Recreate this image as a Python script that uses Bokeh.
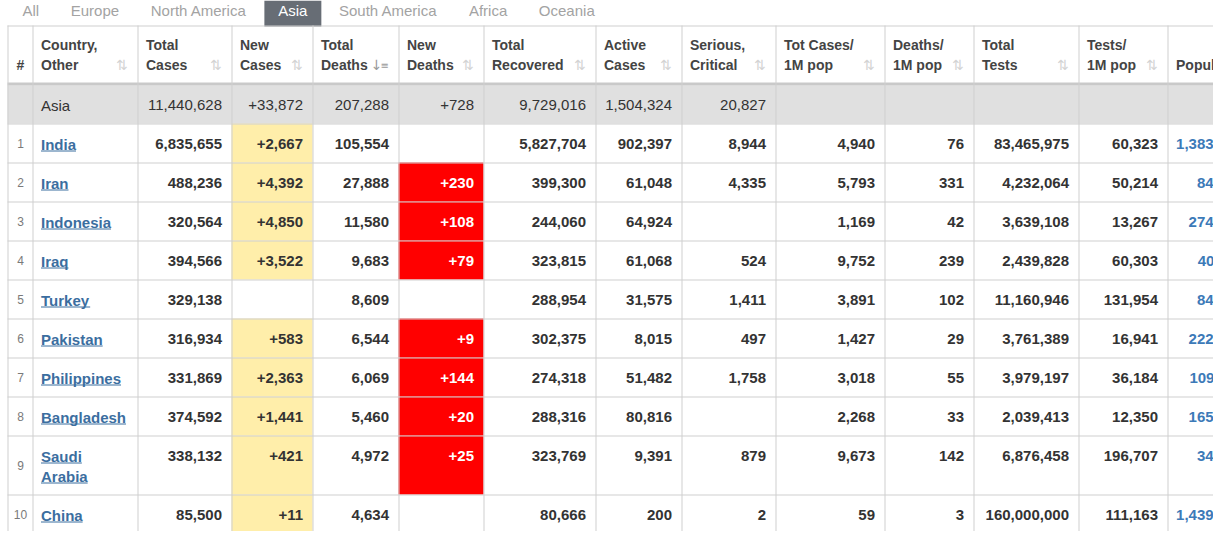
from bokeh.plotting import figure
from bokeh.models import Range1d, ColumnDataSource
from bokeh.core.properties import value
from bokeh.embed import file_html
from bokeh.resources import INLINE

# ---------------- DATA ----------------
tabs = ["All", "Europe", "North America", "Asia", "South America", "Africa", "Oceania"]
active_tab = "Asia"

headers = ["#", "Country,\nOther", "Total\nCases", "New\nCases", "Total\nDeaths", "New\nDeaths",
           "Total\nRecovered", "Active\nCases", "Serious,\nCritical", "Tot Cases/\n1M pop",
           "Deaths/\n1M pop", "Total\nTests", "Tests/\n1M pop", "Population"]
sorted_header = "Total\nDeaths"

region_name = "Asia"
region_values = ["11,440,628", "+33,872", "207,288", "+728", "9,729,016", "1,504,324", "20,827",
                 "", "", "", "", ""]

ranks = ["1", "2", "3", "4", "5", "6", "7", "8", "9", "10", "11"]
countries = ["India", "Iran", "Indonesia", "Iraq", "Turkey", "Pakistan", "Philippines",
             "Bangladesh", "Saudi Arabia", "China", "Israel"]
total_cases = ["6,835,655", "488,236", "320,564", "394,566", "329,138", "316,934", "331,869",
               "374,592", "338,132", "85,500", "289,037"]
new_cases = ["+2,667", "+4,392", "+4,850", "+3,522", "", "+583", "+2,363", "+1,441", "+421",
             "+11", "+1,870"]
total_deaths = ["105,554", "27,888", "11,580", "9,683", "8,609", "6,544", "6,069", "5,460",
                "4,972", "4,634", "1,924"]
new_deaths = ["", "+230", "+108", "+79", "", "+9", "+144", "+20", "+25", "", "+17"]
total_recovered = ["5,827,704", "399,300", "244,060", "323,815", "288,954", "302,375", "274,318",
                   "288,316", "323,769", "80,666", "225,812"]
active_cases = ["902,397", "61,048", "64,924", "61,068", "31,575", "8,015", "51,482", "80,816",
                "9,391", "200", "61,301"]
serious_critical = ["8,944", "4,335", "", "524", "1,411", "497", "1,758", "", "879", "2", "848"]
cases_per_1m = ["4,940", "5,793", "1,169", "9,752", "3,891", "1,427", "3,018", "2,268", "9,673",
                "59", "33,316"]
deaths_per_1m = ["76", "331", "42", "239", "102", "29", "55", "33", "142", "3", "222"]
total_tests = ["83,465,975", "4,232,064", "3,639,108", "2,439,828", "11,160,946", "3,761,389",
               "3,979,197", "2,039,413", "6,876,458", "160,000,000", "4,195,620"]
tests_per_1m = ["60,323", "50,214", "13,267", "60,303", "131,954", "16,941", "36,184", "12,350",
                "196,707", "111,163", "483,045"]
population = ["1,383,623,421", "84,326,512", "274,281,341", "40,442,113", "84,632,016",
              "222,003,540", "109,980,117", "165,125,890", "34,908,721", "1,439,323,776",
              "8,685,712"]

value_columns = [total_cases, new_cases, total_deaths, new_deaths, total_recovered, active_cases,
                 serious_critical, cases_per_1m, deaths_per_1m, total_tests, tests_per_1m, population]

# ---------------- STYLE / LAYOUT ----------------
FONT = value("Liberation Sans")
W_FIG, H_FIG = 1213, 531
col_edges = [7, 32, 137, 231, 312, 398, 483, 595, 681, 775, 884, 973, 1078, 1167, 1281]
header_top = 25
header_bottom = 82      # thick rule 82..85
region_top = 85
first_row_line = 123
base_row_h = 39
line_h = 20
BL = -4.5               # baseline correction for rendered text
grid_color = "#cfcfcf"
text_color = "#333333"
hdr_color = "#444444"
link_color = "#3b6e9f"
pop_color = "#3c7ab8"
yellow = "#ffeeaa"
red = "#ff0000"

# Arial / Liberation Sans advance widths (per 1000 em)
W_BOLD = {'A': 722, 'B': 722, 'C': 722, 'I': 278, 'P': 667, 'S': 667, 'T': 611, 'a': 556,
          'b': 611, 'c': 556, 'd': 611, 'e': 556, 'g': 611, 'h': 611, 'i': 278, 'k': 556,
          'l': 278, 'n': 611, 'o': 611, 'p': 611, 'q': 611, 'r': 389, 's': 556, 't': 333,
          'u': 611, 'y': 556, ' ': 278}
W_REG = {'A': 667, 'l': 222, 'E': 667, 'u': 556, 'r': 333, 'o': 556, 'p': 556, 'e': 556,
         'N': 722, 't': 278, 'h': 556, ' ': 278, 'm': 833, 'i': 222, 'c': 500, 'a': 556,
         's': 500, 'S': 667, 'f': 278, 'O': 778, 'n': 556}


def text_w(s, size, table):
    return sum(table.get(ch, 556) for ch in s) * size / 1000.0


p = figure(width=W_FIG, height=H_FIG, x_range=Range1d(0, W_FIG), y_range=Range1d(H_FIG, 0),
           output_backend="svg", toolbar_location=None, min_border=0,
           x_axis_location=None, y_axis_location=None)
p.grid.visible = False
p.outline_line_color = None
p.background_fill_color = "white"
p.border_fill_color = "white"

# ---------------- TABS ----------------
tab_x, tab_txt, tab_col = [], [], []
left = 6.2
pad = 15.8
for t in tabs:
    w = text_w(t, 15, W_REG)
    tx = left + pad
    if t == active_tab:
        p.quad(left=[left + 2], right=[tx + w + pad - 1.8], top=[0], bottom=[26],
               fill_color="#676d75", line_color=None)
    tab_x.append(tx)
    tab_txt.append(t)
    tab_col.append("white" if t == active_tab else "#a3a3a3")
    left = tx + w + pad
p.text(x="x", y="y", text="t", text_color="c",
       source=ColumnDataSource(dict(x=tab_x, y=[14 + BL] * len(tab_x), t=tab_txt, c=tab_col)),
       text_font=FONT, text_font_size="15px", text_baseline="alphabetic", text_align="left")

# ---------------- ROW GEOMETRY ----------------
name_lines = []
for c in countries:
    avail = (col_edges[2] - col_edges[1]) - 17
    if text_w(c, 15, W_BOLD) > avail and " " in c:
        name_lines.append(c.split(" "))
    else:
        name_lines.append([c])
row_tops, row_bots = [], []
y = first_row_line
for nl in name_lines:
    row_tops.append(y)
    y = y + base_row_h + line_h * (len(nl) - 1)
    row_bots.append(y)

# ---------------- BACKGROUNDS ----------------
p.quad(left=[col_edges[0]], right=[1221], top=[region_top], bottom=[first_row_line],
       fill_color="#e0e0e0", line_color=None)
p.quad(left=[col_edges[0]], right=[1221], top=[header_bottom], bottom=[header_bottom + 3],
       fill_color="#c9c9c9", line_color=None)

hl_l, hl_r, hl_t, hl_b, hl_c = [], [], [], [], []
for i in range(len(countries)):
    if new_cases[i]:
        hl_l.append(col_edges[3]); hl_r.append(col_edges[4])
        hl_t.append(row_tops[i]); hl_b.append(row_bots[i]); hl_c.append(yellow)
    if new_deaths[i]:
        hl_l.append(col_edges[5]); hl_r.append(col_edges[6])
        hl_t.append(row_tops[i]); hl_b.append(row_bots[i]); hl_c.append(red)
p.quad(left="l", right="r", top="t", bottom="b", fill_color="c", line_color=None,
       source=ColumnDataSource(dict(l=hl_l, r=hl_r, t=hl_t, b=hl_b, c=hl_c)))

# ---------------- GRID LINES ----------------
hx0, hx1, hy = [], [], []
for yy in [header_top] + [first_row_line] + row_bots:
    hx0.append(col_edges[0]); hx1.append(1221); hy.append(yy + 0.5)
p.segment(x0=hx0, x1=hx1, y0=hy, y1=hy, line_color=grid_color, line_width=1)
vx = [e + 0.5 for e in col_edges]
p.segment(x0=vx, x1=vx, y0=[header_top] * len(vx), y1=[560] * len(vx),
          line_color=grid_color, line_width=1)

# ---------------- HEADER TEXT ----------------
hdr_x, hdr_y, hdr_t = [], [], []
ico_x, ico_t, ico_c, ico_s = [], [], [], []
for j, h in enumerate(headers):
    parts = h.split("\n")
    if j == 0:
        p.text(x=[(col_edges[0] + col_edges[1]) / 2 + 0.5], y=[69 + BL], text=[h], text_font=FONT,
               text_font_size="14px", text_font_style="bold", text_color=hdr_color,
               text_align="center", text_baseline="alphabetic")
        continue
    base = 69 - line_h * (len(parts) - 1)
    for k, part in enumerate(parts):
        hdr_x.append(col_edges[j] + 8.5)
        hdr_y.append(base + k * line_h + BL)
        hdr_t.append(part)
    if j < len(headers) - 1:
        if h == sorted_header:
            ico_x += [col_edges[j + 1] - 16, col_edges[j + 1] - 9.5]
            ico_t += ["↓", "≡"]
            ico_c += ["#9a9a9a", "#9a9a9a"]
            ico_s += ["14px", "10px"]
        else:
            ico_x.append(col_edges[j + 1] - 9.5)
            ico_t.append("⇅"); ico_c.append("#d3d3d3"); ico_s.append("14px")
p.text(x="x", y="y", text="t", source=ColumnDataSource(dict(x=hdr_x, y=hdr_y, t=hdr_t)),
       text_font=FONT, text_font_size="14px", text_font_style="bold", text_color=hdr_color,
       text_align="left", text_baseline="alphabetic")
p.text(x="x", y="y", text="t", text_color="c", text_font_size="s",
       source=ColumnDataSource(dict(x=ico_x, y=[69 + BL] * len(ico_x), t=ico_t, c=ico_c,
                                    s=ico_s)),
       text_font=value("DejaVu Sans"), text_align="right", text_baseline="alphabetic")

# ---------------- REGION ROW ----------------
rx, rt = [], []
for j, v in enumerate(region_values):
    if v:
        rx.append(col_edges[j + 3] - 9.5)
        rt.append(v)
p.text(x="x", y="y", text="t",
       source=ColumnDataSource(dict(x=rx, y=[region_top + 24 + BL] * len(rx), t=rt)),
       text_font=FONT, text_font_size="15px", text_color=text_color, text_align="right",
       text_baseline="alphabetic")
p.text(x=[col_edges[1] + 8.5], y=[region_top + 24 + BL], text=[region_name], text_font=FONT,
       text_font_size="15px", text_color=text_color, text_align="left",
       text_baseline="alphabetic")

# ---------------- BODY ROWS ----------------
num_x, num_y, num_t, num_c = [], [], [], []
red_x, red_y, red_t = [], [], []
for i in range(len(countries)):
    base = row_tops[i] + 25 + BL
    for j, col in enumerate(value_columns):
        v = col[i]
        if not v:
            continue
        xr = col_edges[j + 3] - 9.5
        if col is new_deaths:
            red_x.append(xr); red_y.append(base); red_t.append(v)
        else:
            num_x.append(xr); num_y.append(base); num_t.append(v)
            num_c.append(pop_color if col is population else text_color)
p.text(x="x", y="y", text="t", text_color="c",
       source=ColumnDataSource(dict(x=num_x, y=num_y, t=num_t, c=num_c)),
       text_font=FONT, text_font_size="15px", text_font_style="bold", text_align="right",
       text_baseline="alphabetic")
p.text(x="x", y="y", text="t", source=ColumnDataSource(dict(x=red_x, y=red_y, t=red_t)),
       text_font=FONT, text_font_size="15px", text_font_style="bold", text_color="white",
       text_align="right", text_baseline="alphabetic")

# country names (links, underlined)
cn_x, cn_y, cn_t = [], [], []
ul_x0, ul_x1, ul_y = [], [], []
for i, nl in enumerate(name_lines):
    for k, part in enumerate(nl):
        bx = col_edges[1] + 8.5
        by = row_tops[i] + 25 + k * line_h
        cn_x.append(bx); cn_y.append(by + BL); cn_t.append(part)
        ul_x0.append(bx); ul_x1.append(bx + text_w(part, 15, W_BOLD)); ul_y.append(by + 2.5)
p.text(x="x", y="y", text="t", source=ColumnDataSource(dict(x=cn_x, y=cn_y, t=cn_t)),
       text_font=FONT, text_font_size="15px", text_font_style="bold", text_color=link_color,
       text_align="left", text_baseline="alphabetic")
p.segment(x0=ul_x0, x1=ul_x1, y0=ul_y, y1=ul_y, line_color=link_color, line_width=1)

# rank numbers
rk_y = [(row_tops[i] + row_bots[i]) / 2 + 4.8 + BL for i in range(len(ranks))]
p.text(x=[(col_edges[0] + col_edges[1]) / 2 + 0.5] * len(ranks), y=rk_y, text=ranks,
       text_font=FONT, text_font_size="12px", text_color="#7a7a7a", text_align="center",
       text_baseline="alphabetic")

# ---------------- SCROLLBAR ----------------
p.quad(left=[1216], right=[1221], top=[0], bottom=[539], fill_color="#f0f0f0", line_color=None)
p.quad(left=[1217], right=[1221], top=[97], bottom=[118], fill_color="#c4c4c4", line_color=None)

open("out.html", "w").write(file_html(p, INLINE))
